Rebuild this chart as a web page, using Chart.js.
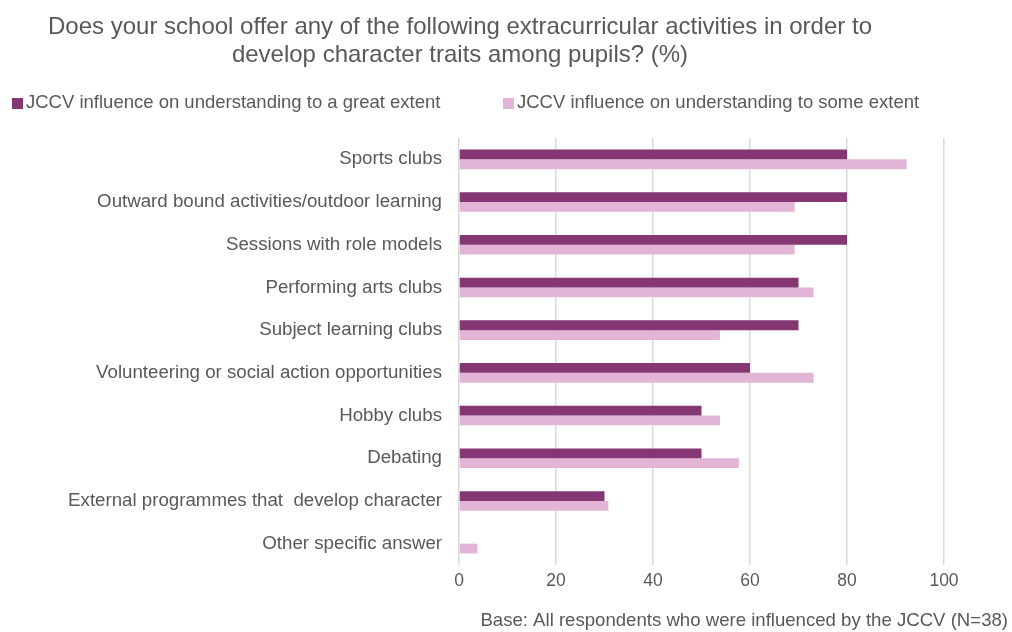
<!DOCTYPE html>
<html>
<head>
<meta charset="utf-8">
<script src="https://cdn.jsdelivr.net/npm/chart.js@4.4.1/dist/chart.umd.min.js"></script>
<style>
  html, body { margin: 0; padding: 0; background: #ffffff; }
  #wrap { width: 1012px; height: 632px; position: relative; }
</style>
</head>
<body>
<div id="wrap"><canvas id="chart" width="1012" height="632"></canvas></div>
<script>
// Survey data (%)
const categories = [
  'Sports clubs',
  'Outward bound activities/outdoor learning',
  'Sessions with role models',
  'Performing arts clubs',
  'Subject learning clubs',
  'Volunteering or social action opportunities',
  'Hobby clubs',
  'Debating',
  'External programmes that  develop character',
  'Other specific answer'
];
const greatExtent = [80, 80, 80, 70, 70, 60, 50, 50, 30, 0];
const someExtent  = [92.3, 69.2, 69.2, 73.1, 53.8, 73.1, 53.8, 57.7, 30.8, 3.8];
const seriesNames = [
  'JCCV influence on understanding to a great extent',
  'JCCV influence on understanding to some extent'
];
const titleLines = [
  'Does your school offer any of the following extracurricular activities in order to',
  'develop character traits among pupils? (%)'
];
const footnote = 'Base: All respondents who were influenced by the JCCV (N=38)';
const xTicks = [0, 20, 40, 60, 80, 100];

const FONT = '"Liberation Sans", Arial, sans-serif';
const TEXT = '#595959';
const DARK = '#843772';
const LIGHT = '#E2B5D6';

// Title, legend row and base note drawn on the chart canvas
const annotations = {
  id: 'annotations',
  afterDraw(chart) {
    const ctx = chart.ctx;
    ctx.save();
    ctx.fillStyle = TEXT;
    ctx.textBaseline = 'middle';

    ctx.font = '24px ' + FONT;
    ctx.textAlign = 'center';
    ctx.fillText(titleLines[0], 460, 27);
    ctx.fillText(titleLines[1], 460, 55);

    ctx.font = '18.5px ' + FONT;
    ctx.textAlign = 'left';
    const items = [
      { x: 12, color: chart.data.datasets[0].backgroundColor, text: chart.data.datasets[0].label },
      { x: 503, color: chart.data.datasets[1].backgroundColor, text: chart.data.datasets[1].label }
    ];
    items.forEach(it => {
      ctx.fillStyle = it.color;
      ctx.fillRect(it.x, 98, 11, 11);
      ctx.fillStyle = TEXT;
      ctx.fillText(it.text, it.x + 14, 103);
    });

    ctx.font = '18.6px ' + FONT;
    ctx.textAlign = 'right';
    ctx.fillText(footnote, 1008, 621);
    ctx.restore();
  }
};

new Chart(document.getElementById('chart'), {
  type: 'bar',
  data: {
    labels: categories,
    datasets: [
      { label: seriesNames[0], data: greatExtent, backgroundColor: DARK },
      { label: seriesNames[1], data: someExtent, backgroundColor: LIGHT }
    ]
  },
  options: {
    indexAxis: 'y',
    responsive: false,
    animation: false,
    devicePixelRatio: 1,
    layout: { padding: { top: 138, right: 68, bottom: 34, left: 0 } },
    datasets: { bar: { categoryPercentage: 0.46, barPercentage: 1.0 } },
    plugins: {
      legend: { display: false },
      title: { display: false },
      tooltip: { enabled: false }
    },
    scales: {
      x: {
        min: 0,
        max: 100,
        afterBuildTicks(scale) { scale.ticks = xTicks.map(v => ({ value: v })); },
        grid: { color: '#D9D9D9', lineWidth: 1.5, drawTicks: false },
        border: { display: false },
        ticks: { color: TEXT, font: { family: FONT, size: 17.5 }, padding: 6 }
      },
      y: {
        afterFit(scale) { scale.width = 459; },
        grid: { display: false, drawTicks: false },
        border: { display: false },
        ticks: { color: TEXT, font: { family: FONT, size: 18.7 }, padding: 17, autoSkip: false }
      }
    }
  },
  plugins: [annotations]
});
</script>
</body>
</html>
